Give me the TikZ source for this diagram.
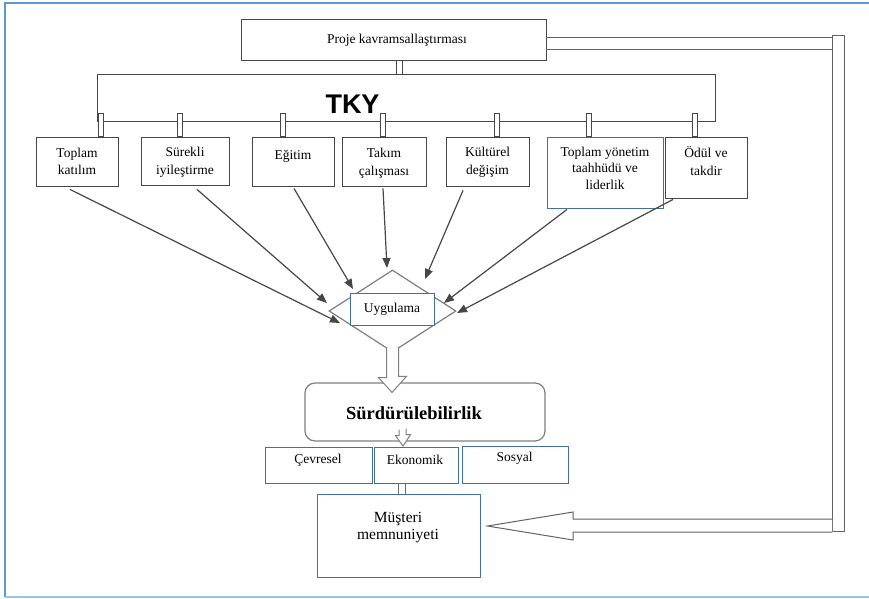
\documentclass[tikz,border=0pt]{standalone}
\usepackage{fontspec}
\setmainfont{Liberation Serif}
\newfontfamily\headfont{Liberation Sans}
\usetikzlibrary{arrows.meta,calc,shapes.geometric}
\definecolor{linegray}{HTML}{474747}
\definecolor{softgray}{HTML}{7F7F7F}
\definecolor{boxblue}{HTML}{41719C}
\definecolor{framebluetop}{HTML}{5B9BD5}
\definecolor{frameblue}{HTML}{9DC3E6}
\begin{document}
\begin{tikzpicture}[x=1pt,y=-1pt,
  gbox/.style={draw=linegray,line width=0.9pt,fill=white,inner sep=0pt},
  bbox/.style={draw=boxblue,line width=0.9pt,fill=white,inner sep=0pt},
  lbl/.style={font=\fontsize{13.5}{17.5}\selectfont,align=center,inner sep=0pt},
  arr/.style={draw=linegray,line width=1.2pt,-{Triangle[length=10pt,width=8pt]}},
  hollow/.style={draw=softgray,line width=1pt,fill=white,line join=miter},
  stub/.style={draw=linegray,line width=0.8pt,fill=white},
]
\useasboundingbox (0,0) rectangle (869,598);

% outer frame
\draw[framebluetop,line width=2.5pt] (869,3) -- (5,3) -- (5,597);
\draw[frameblue,line width=2pt] (5,597) -- (869,597);

% top level
\node[gbox,minimum width=305pt,minimum height=41pt] (proje) at (393.5,39.5) {};
\node[lbl] at (397,40) {Proje kavramsallaştırması};

\node[gbox,minimum width=618pt,minimum height=47pt] (tky) at (406,97.5) {};
\node[font=\headfont\bfseries\fontsize{27}{30}\selectfont,inner sep=0pt,anchor=base] at (352.5,113) {TKY};

\draw[stub] ($(proje.south)+(2.5,0)$) rectangle ($(proje.south)+(8.5,14)$);

% TKY components
\node[gbox,minimum width=82pt,minimum height=49pt] (c1) at (77,161.5) {};
\node[gbox,minimum width=88pt,minimum height=48pt] (c2) at (185,161) {};
\node[gbox,minimum width=82pt,minimum height=49pt] (c3) at (293,161.5) {};
\node[gbox,minimum width=84pt,minimum height=49pt] (c4) at (384,161.5) {};
\node[gbox,minimum width=83pt,minimum height=49pt] (c5) at (487.5,161.5) {};
\node[bbox,minimum width=116pt,minimum height=71pt] (c6) at (605,172.5) {};
\node[gbox,minimum width=82pt,minimum height=61pt] (c7) at (706,167.5) {};

\node[lbl,anchor=north] at (77,147.5) {Toplam\\katılım};
\node[lbl,anchor=north] at (185,147) {Sürekli\\iyileştirme};
\node[lbl,anchor=north] at (293,150) {Eğitim};
\node[lbl,anchor=north] at (384,148) {Takım\\çalışması};
\node[lbl,anchor=north] at (487.5,147) {Kültürel\\değişim};
\node[lbl,anchor=north,font=\fontsize{13.5}{16.5}\selectfont] at (605,146.5) {Toplam yönetim\\taahhüdü ve\\liderlik};
\node[lbl,anchor=north] at (706,146.5) {Ödül ve\\takdir};

% hangers from the TKY bar
\draw[stub] ($(c1.north)+(21.5,0)$) rectangle ($(c1.north)+(26.5,-23)$);
\draw[stub] ($(c2.north)+(-7.5,0)$) rectangle ($(c2.north)+(-2.5,-23)$);
\draw[stub] ($(c3.north)+(-12.5,0)$) rectangle ($(c3.north)+(-7.5,-23)$);
\draw[stub] ($(c4.north)+(-3.5,0)$) rectangle ($(c4.north)+(1.5,-23)$);
\draw[stub] ($(c5.north)+(7,0)$) rectangle ($(c5.north)+(12,-23)$);
\draw[stub] ($(c6.north)+(-18.5,0)$) rectangle ($(c6.north)+(-13.5,-23)$);
\draw[stub] ($(c7.north)+(-13.5,0)$) rectangle ($(c7.north)+(-8.5,-23)$);

% application
\node[diamond,draw=softgray,line width=1.2pt,fill=white,minimum width=127pt,minimum height=82pt,inner sep=0pt] (dia) at (392.5,311) {};
\node[bbox,minimum width=84pt,minimum height=32pt] (uyg) at (392,309) {};
\node[lbl] at (392,309) {Uygulama};

\coordinate (e1) at (340,323);
\coordinate (e2) at (327,303);
\coordinate (e3) at (353,289);
\coordinate (e4) at (387,268);
\coordinate (e5) at (425,279);
\coordinate (e6) at (444,303);
\coordinate (e7) at (457,313);
\draw[arr] ($(c1.south)+(-7,3)$) -- (e1);
\draw[arr] ($(c2.south)+(12,4)$) -- (e2);
\draw[arr] ($(c3.south)+(1,2)$) -- (e3);
\draw[arr] ($(c4.south)+(-1,2)$) -- (e4);
\draw[arr] ($(c5.south)+(-24.5,4)$) -- (e5);
\draw[arr] ($(c6.south)+(-38,1)$) -- (e6);
\draw[arr] ($(c7.south)+(-33,1)$) -- (e7);

% sustainability
\node[draw=softgray,line width=1.2pt,fill=white,rounded corners=10pt,minimum width=240pt,minimum height=58pt,inner sep=0pt] (surd) at (425,412) {};
\node[font=\bfseries\fontsize{18.5}{20}\selectfont,inner sep=0pt] at (414,413) {Sürdürülebilirlik};

\draw[hollow] ($(dia.south)+(-6,-4.5)$) -- ++(0,29.5) -- ++(-8,0)
  -- ($(surd.north)+(-33,10)$) -- ++(14.5,-16) -- ++(-8,0) -- ++(0,-29.5);

\node[bbox,minimum width=107pt,minimum height=36pt] (cev) at (318.5,465) {};
\node[bbox,minimum width=84pt,minimum height=36pt] (eko) at (416,465) {};
\node[bbox,minimum width=106pt,minimum height=37pt] (sos) at (515,464.5) {};
\node[lbl] at (318,460) {Çevresel};
\node[lbl] at (415,460) {Ekonomik};
\node[lbl] at (514.5,458) {Sosyal};

\draw[hollow] ($(surd.south)+(-26,-12)$) -- ++(0,6) -- ++(-3.5,0)
  -- ($(eko.north)+(-13,-0.5)$) -- ++(7.5,-11.5) -- ++(-4.5,0) -- ++(0,-6);

% customer satisfaction
\node[bbox,minimum width=163pt,minimum height=83pt] (mus) at (398.5,535.5) {};
\node[lbl,anchor=north,font=\fontsize{15.5}{17}\selectfont] at (398,512) {Müşteri\\memnuniyeti};
\draw[linegray!80,line width=0.9pt] ($(eko.south)+(-18,0)$) -- ($(mus.north)+(-0.5,0)$)
  ($(eko.south)+(-11,0)$) -- ($(mus.north)+(6.5,0)$);

% feedback loop from the project concept to customer satisfaction
\coordinate (barTop) at (832,35);
\coordinate (barBot) at (844,531);
\draw[draw=linegray!85,line width=1pt] ($(proje.east)+(0,-2.5)$) -- (barTop |- 0,37)
  ($(proje.east)+(0,9.5)$) -- (barTop |- 0,49);
\draw[draw=linegray!85,line width=1pt,fill=white] (barTop) rectangle (barBot);
\draw[hollow,draw=linegray!85] (barTop |- 0,519) -- (573,519) -- (573,512)
  -- ($(mus.east)+(7,-9.5)$) -- (573,540) -- (573,532) -- (barTop |- 0,532);
\end{tikzpicture}
\end{document}
